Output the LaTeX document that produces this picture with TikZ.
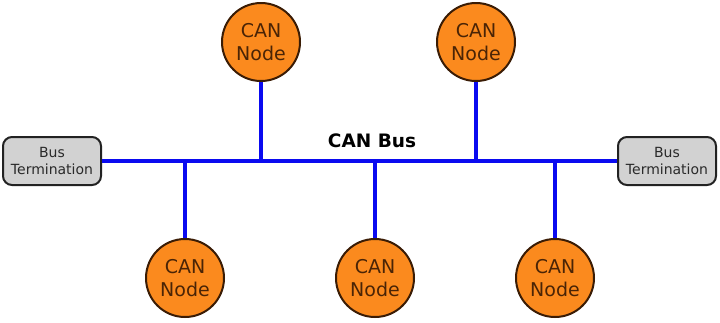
\documentclass[tikz,border=0pt]{standalone}
\usepackage{fontspec}
\setmainfont{DejaVu Sans}
\usepackage{tikz}
\usetikzlibrary{positioning}
\definecolor{nodeCol}{HTML}{FB8A1E}
\definecolor{nodeEdge}{HTML}{3A1C05}
\definecolor{nodeText}{HTML}{4A2406}
\definecolor{termCol}{HTML}{D2D2D2}
\definecolor{termEdge}{HTML}{222222}
\definecolor{termText}{HTML}{2A2A2A}
\definecolor{busCol}{HTML}{0A0AF0}
\tikzset{
  cannode/.style={circle, draw=nodeEdge, fill=nodeCol, line width=2pt, align=center,
        text=nodeText, font=\fontsize{19}{23}\selectfont, inner sep=0pt, minimum size=78pt},
  term/.style={draw=termEdge, fill=termCol, rounded corners=9pt, align=center, line width=2pt,
        text=termText, font=\fontsize{14}{17}\selectfont, inner sep=0pt,
        minimum width=98pt, minimum height=48pt},
  bus/.style={draw=busCol, line width=4.5pt},
  buslab/.style={font=\bfseries\fontsize{18.5}{20}\selectfont, inner sep=1pt},
}
\begin{document}
\begin{tikzpicture}[x=1pt,y=-1pt]
  \useasboundingbox (0,0) rectangle (720,322);
  % --- terminations ---
  \node[term] (termL) at (52,161) {Bus\\Termination};
  \node[term] (termR) at (667,161) {Bus\\Termination};
  % --- bus line ---
  \draw[bus] (termL.east) -- (termR.west);
  \node[buslab] (lab) at (372,141) {CAN Bus};
  % --- CAN nodes ---
  \node[cannode] (top1) at (261,42) {CAN\\Node};
  \node[cannode] (top2) at (476,42) {CAN\\Node};
  \node[cannode] (bot1) at (185,278) {CAN\\Node};
  \node[cannode] (bot2) at (375,278) {CAN\\Node};
  \node[cannode] (bot3) at (555,278) {CAN\\Node};
  % stubs to the bus
  \foreach \n in {top1,top2} \draw[bus] (\n.south) -- (\n.south|-termL.east);
  \foreach \n in {bot1,bot2,bot3} \draw[bus] (\n.north) -- (\n.north|-termL.east);
\end{tikzpicture}
\end{document}
